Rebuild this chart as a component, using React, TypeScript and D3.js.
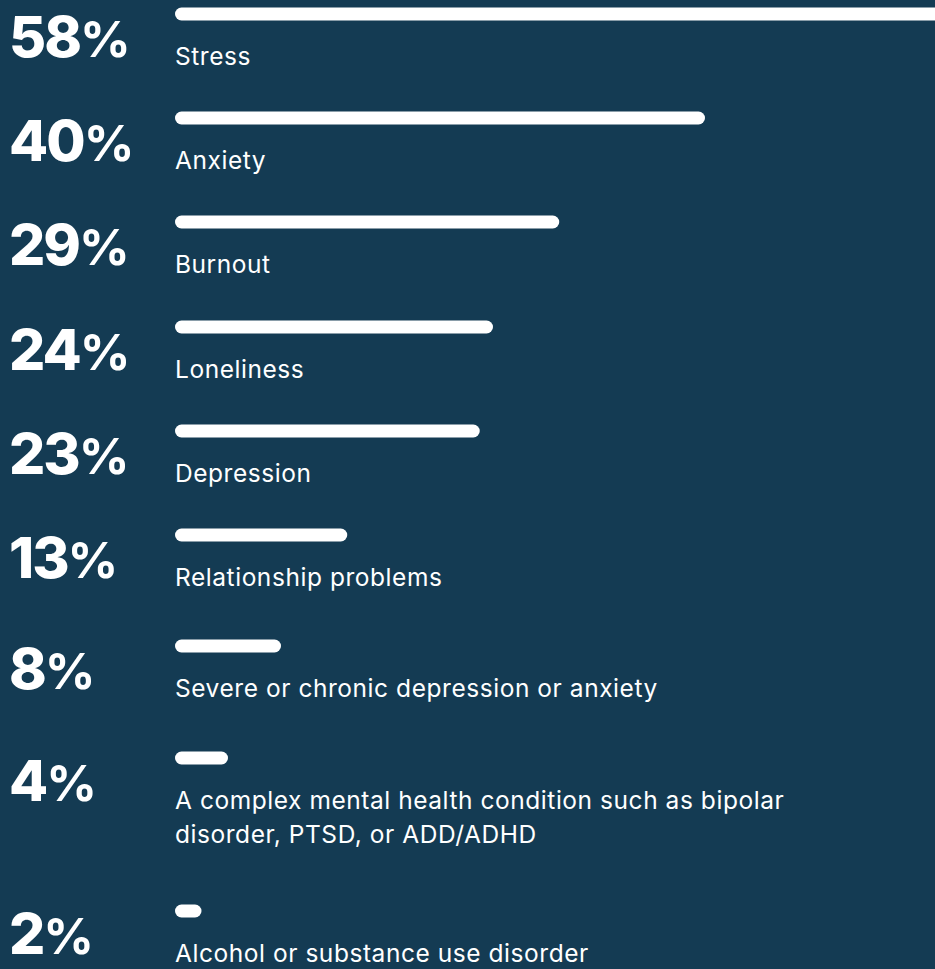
import React from "react";
import * as d3 from "d3";

const percentages = [58, 40, 29, 24, 23, 13, 8, 4, 2];
const categoryLines: string[][] = [
  ["Stress"],
  ["Anxiety"],
  ["Burnout"],
  ["Loneliness"],
  ["Depression"],
  ["Relationship problems"],
  ["Severe or chronic depression or anxiety"],
  ["A complex mental health condition such as bipolar", "disorder, PTSD, or ADD/ADHD"],
  ["Alcohol or substance use disorder"],
];

const W = 935;
const H = 969;
const BG = "#143B53";
const FONT = "Inter, 'Open Sans', sans-serif";

// layout: vertical distance from one row to the next
const rowSpacing = [104, 104, 105, 104, 104, 111, 112, 153];

export default function App() {
  const x = d3.scaleLinear().domain([0, 40]).range([175, 705]);
  const rowY = d3.cumsum([14, ...rowSpacing]);
  const barH = 13;

  return (
    <div style={{ position: "fixed", left: 0, top: 0, width: W, height: H, overflow: "hidden", background: BG }}>
      <svg width={W} height={H} style={{ display: "block" }}>
        <rect x={0} y={0} width={W} height={H} fill={BG} />
        {percentages.map((p, i) => {
          const cy = rowY[i];
          return (
            <g key={i}>
              <rect
                x={x(0)}
                y={cy - barH / 2}
                width={x(p) - x(0)}
                height={barH}
                rx={barH / 2}
                fill="#ffffff"
              />
              <text
                x={9}
                y={cy + 43}
                fill="#ffffff"
                fontFamily={FONT}
                fontWeight={800}
                fontSize={57}
                letterSpacing={-2}
              >
                {p}
                <tspan fontSize={50} fontWeight={700}>%</tspan>
              </text>
              {categoryLines[i].map((line, j) => (
                <text
                  key={j}
                  x={175}
                  y={cy + 51 + j * 34}
                  fill="#ffffff"
                  fontFamily={FONT}
                  fontWeight={400}
                  fontSize={24.5}
                  letterSpacing={0.55}
                >
                  {line}
                </text>
              ))}
            </g>
          );
        })}
      </svg>
    </div>
  );
}
